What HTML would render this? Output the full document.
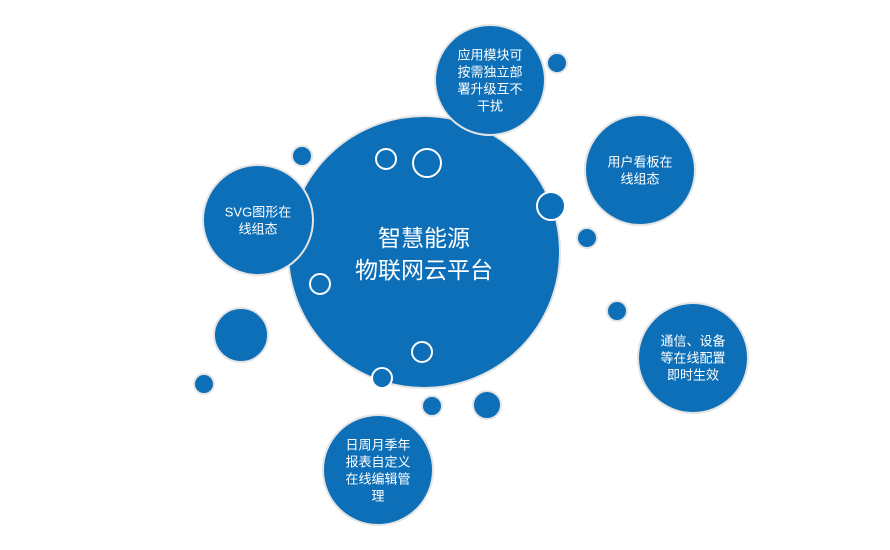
<!DOCTYPE html>
<html><head><meta charset="utf-8"><style>
html,body{margin:0;padding:0;background:#fff;}
svg{display:block;}
text{font-family:"Liberation Sans","Noto Sans CJK SC",sans-serif;fill:#fff;text-anchor:middle;dominant-baseline:central;}
</style></head><body>
<svg width="890" height="550" viewBox="0 0 890 550" xmlns="http://www.w3.org/2000/svg">
<g fill="#0d6fb8" stroke="#e4e4e4" stroke-width="2">
<circle cx="424" cy="252" r="136"/>
<circle cx="490" cy="80" r="55"/>
<circle cx="640" cy="170" r="55"/>
<circle cx="693" cy="358" r="55"/>
<circle cx="378" cy="470" r="55"/>
<circle cx="258" cy="220" r="55"/>
<circle cx="557" cy="63" r="10"/>
<circle cx="302" cy="156" r="10"/>
<circle cx="587" cy="238" r="10"/>
<circle cx="617" cy="311" r="10"/>
<circle cx="241" cy="335" r="27"/>
<circle cx="204" cy="384" r="10"/>
<circle cx="432" cy="406" r="10"/>
<circle cx="487" cy="405" r="14"/>
</g>
<g fill="#0d6fb8" stroke="#fff" stroke-width="2">
<circle cx="386" cy="159" r="10"/>
<circle cx="427" cy="163" r="14"/>
<circle cx="551" cy="206" r="14"/>
<circle cx="320" cy="284" r="10"/>
<circle cx="422" cy="352" r="10"/>
<circle cx="382" cy="378" r="10"/>
</g>
<g font-size="23">
<text x="424" y="238">智慧能源</text>
<text x="424" y="270">物联网云平台</text>
</g>
<g font-size="13">
<text x="490" y="55">应用模块可</text>
<text x="490" y="72">按需独立部</text>
<text x="490" y="89">署升级互不</text>
<text x="490" y="106">干扰</text>
<text x="640" y="162">用户看板在</text>
<text x="640" y="179">线组态</text>
<text x="693" y="341">通信、设备</text>
<text x="693" y="358">等在线配置</text>
<text x="693" y="375">即时生效</text>
<text x="378" y="445">日周月季年</text>
<text x="378" y="462">报表自定义</text>
<text x="378" y="479">在线编辑管</text>
<text x="378" y="496">理</text>
<text x="258" y="212">SVG图形在</text>
<text x="258" y="229">线组态</text>
</g>
</svg>
</body></html>
